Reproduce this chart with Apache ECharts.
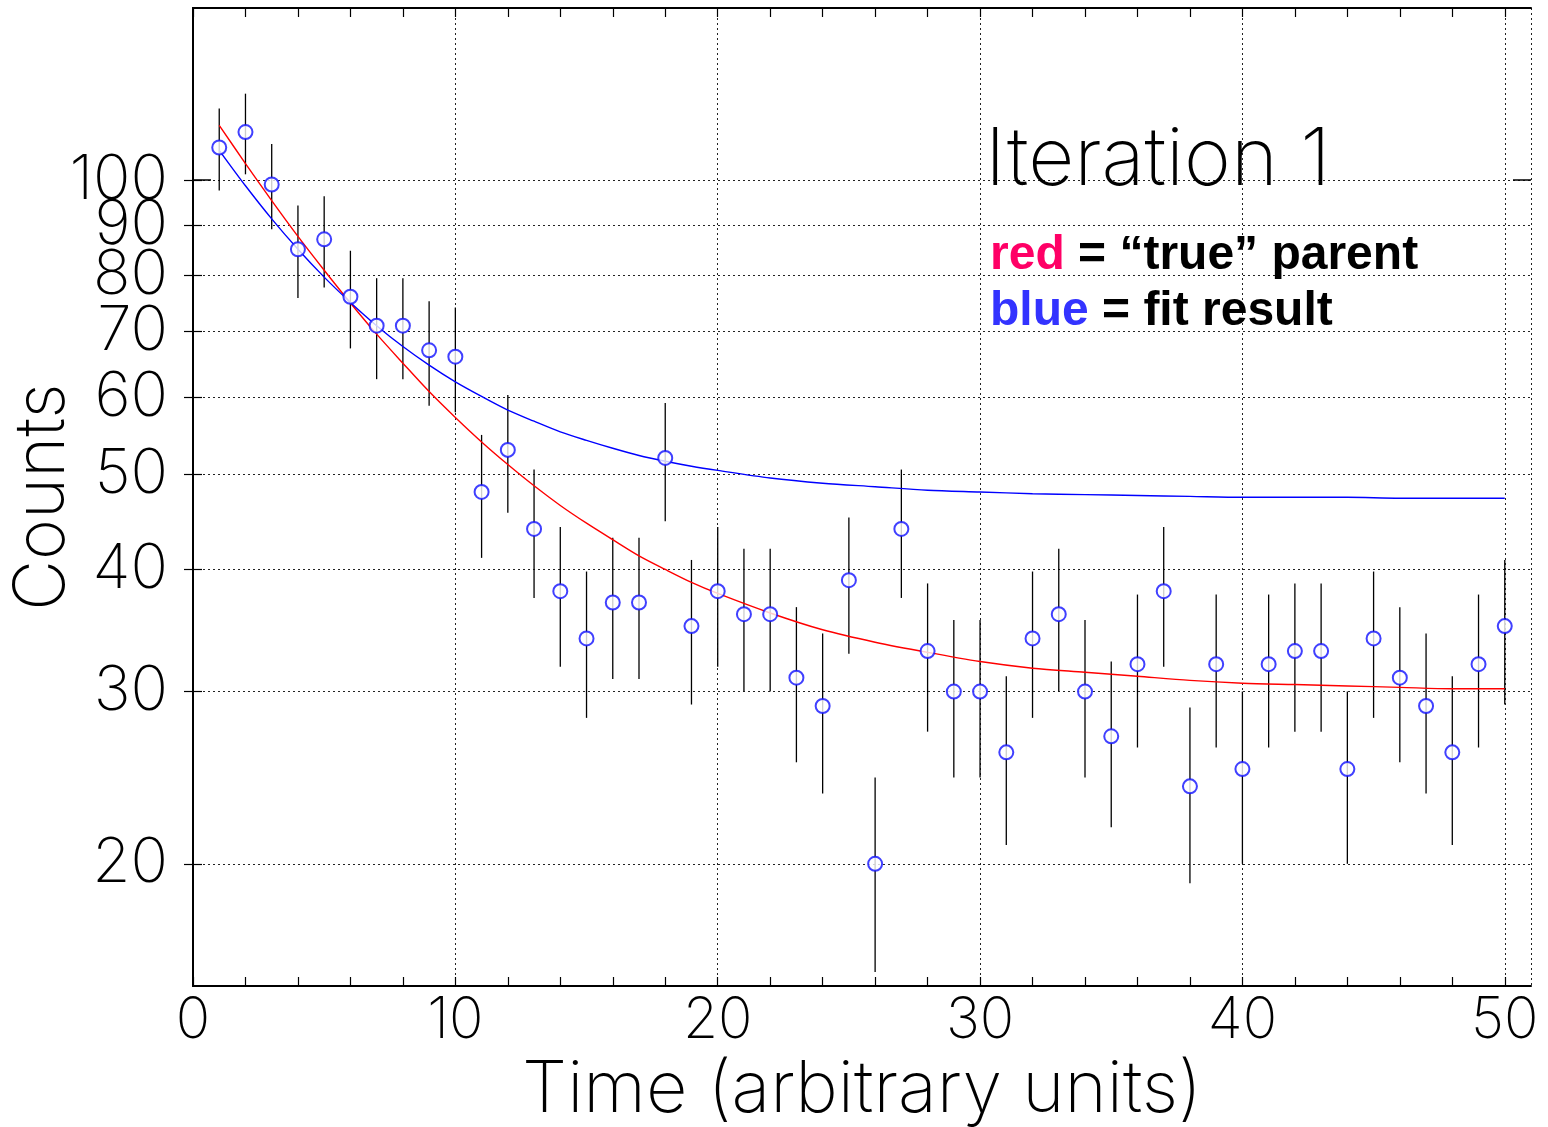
<!DOCTYPE html>
<html>
<head>
<meta charset="utf-8">
<script src="https://cdn.jsdelivr.net/npm/echarts@6/dist/echarts.min.js"></script>
<style>html,body{margin:0;padding:0;background:#fff}#c{width:1548px;height:1127px}</style>
</head>
<body>
<div id="c"></div>
<script>
// ---- data ----
const times = [1,2,3,4,5,6,7,8,9,10,11,12,13,14,15,16,17,18,19,20,21,22,23,24,25,26,27,28,29,30,31,32,33,34,35,36,37,38,39,40,41,42,43,44,45,46,47,48,49,50];
const counts = [108,112,99,85,87,76,71,71,67,66,48,53,44,38,34,37,37,52,35,38,36,36,31,29,39,20,44,33,30,30,26,34,36,30,27,32,38,24,32,25,32,33,33,25,34,31,29,26,32,35];
const countErrors = [10.4,10.6,9.9,9.2,9.3,8.7,8.4,8.4,8.2,8.1,6.9,7.3,6.6,6.2,5.8,6.1,6.1,7.2,5.9,6.2,6.0,6.0,5.6,5.4,6.2,4.5,6.6,5.7,5.5,5.5,5.1,5.8,6.0,5.5,5.2,5.7,6.2,4.9,5.7,5.0,5.7,5.7,5.7,5.0,5.8,5.6,5.4,5.1,5.7,5.9];

const trueX = [1,2,3,4,5,6,7,8,9,10,11,12,13,14,15,16,17,18,19,20,22,24,26,28,30,32,34,36,38,40,42,44,46,48,50];
const trueY = [113.8,104.0,95.3,87.6,80.9,74.9,69.6,65.0,60.8,57.2,54.0,51.2,48.7,46.5,44.6,42.9,41.3,40.0,38.8,37.8,36.1,34.7,33.7,32.9,32.2,31.7,31.4,31.1,30.8,30.6,30.5,30.4,30.3,30.2,30.2];

const fitX = [1,2,3,4,5,6,7,8,9,10,11,12,13,14,15,16,17,18,19,20,22,24,26,28,30,32,34,36,38,40,42,44,46,48,50];
const fitY = [107.3,98.7,91.3,85.0,79.6,75.0,71.0,67.6,64.7,62.2,60.1,58.2,56.7,55.3,54.2,53.2,52.3,51.6,51.0,50.5,49.6,49.0,48.6,48.2,48.0,47.8,47.7,47.6,47.5,47.4,47.4,47.4,47.3,47.3,47.3];

const yTickValues = [20,30,40,50,60,70,80,90,100];
const yLabelsEven = [20,40,60,80];
const yLabelsOdd = [30,50,70,90];
const yDecadeTicks = [100];
const xTickValues = [0,2,4,6,8,10,12,14,16,18,20,22,24,26,28,30,32,34,36,38,40,42,44,46,48,50];
const xTickLabels = [0,10,20,30,40,50];

const thinFont = 'Inter, Lato, "DejaVu Sans", sans-serif';
const boldFont = '"Liberation Sans", Arial, sans-serif';

const points = times.map((t, i) => [t, counts[i]]);
const bars = times.map((t, i) => [t, counts[i] - countErrors[i], counts[i] + countErrors[i]]);
const trueLine = trueX.map((t, i) => [t, trueY[i]]);
const fitLine = fitX.map((t, i) => [t, fitY[i]]);

const gridDash = { type: [2, 3], color: '#222', width: 1 };
const frameLine = { color: '#000', width: 2 };
const yLabelStyle = { fontFamily: thinFont, fontWeight: 200, fontSize: 62, color: '#000', margin: 25, hideOverlap: false };

function yAxisBase(pos) {
  return {
    type: 'log', logBase: 10, min: 15, max: 150, position: pos,
    axisLine: { show: true, lineStyle: frameLine },
    axisTick: { show: true, inside: true, length: 9, customValues: yTickValues, lineStyle: { color: '#000', width: 1.2 } },
    axisLabel: { show: false },
    splitLine: { show: false },
    minorTick: { show: false }, minorSplitLine: { show: false }
  };
}

const chart = echarts.init(document.getElementById('c'), null, { renderer: 'canvas' });
chart.setOption({
  animation: false,
  backgroundColor: '#fff',
  grid: { left: 193, right: 17, top: 8, bottom: 141, containLabel: false, outerBoundsMode: 'none' },
  xAxis: [
    {
      type: 'value', min: 0, max: 51, position: 'bottom',
      axisLine: { show: true, onZero: false, lineStyle: frameLine },
      axisTick: { show: true, inside: true, length: 9, customValues: xTickValues, lineStyle: { color: '#000', width: 1.2 } },
      axisLabel: { show: true, customValues: xTickLabels, fontFamily: thinFont, fontWeight: 200, fontSize: 57, color: '#000', margin: 6 },
      splitLine: { show: false },
      name: 'Time (arbitrary units)', nameLocation: 'middle', nameGap: 64,
      nameTextStyle: { fontFamily: thinFont, fontWeight: 200, fontSize: 72, color: '#000' }
    },
    {
      type: 'value', min: 0, max: 51, position: 'top',
      axisLine: { show: true, onZero: false, lineStyle: frameLine },
      axisTick: { show: true, inside: true, length: 9, customValues: xTickValues, lineStyle: { color: '#000', width: 1.2 } },
      axisLabel: { show: false }, splitLine: { show: false }
    },
    {
      type: 'value', min: 0, max: 51, interval: 10, position: 'bottom',
      axisLine: { show: false }, axisTick: { show: false }, axisLabel: { show: false },
      splitLine: { show: true, lineStyle: gridDash }
    }
  ],
  yAxis: [
    Object.assign(yAxisBase('left'), {
      axisLabel: Object.assign({ show: true, customValues: yLabelsEven }, yLabelStyle),
      splitLine: { show: true, lineStyle: gridDash },
      name: 'Counts', nameLocation: 'middle', nameGap: 115, nameRotate: 90,
      nameTextStyle: { fontFamily: thinFont, fontWeight: 200, fontSize: 70, color: '#000' }
    }),
    yAxisBase('right'),
    Object.assign(yAxisBase('left'), {
      axisLine: { show: false },
      axisTick: { show: true, inside: true, length: 18, customValues: yDecadeTicks, lineStyle: { color: '#000', width: 1.5 } },
      axisLabel: Object.assign({ show: true, customValues: yDecadeTicks }, yLabelStyle)
    }),
    Object.assign(yAxisBase('right'), {
      axisLine: { show: false },
      axisTick: { show: true, inside: true, length: 18, customValues: yDecadeTicks, lineStyle: { color: '#000', width: 1.5 } }
    }),
    Object.assign(yAxisBase('left'), {
      axisLine: { show: false },
      axisTick: { show: false },
      axisLabel: Object.assign({ show: true, customValues: yLabelsOdd }, yLabelStyle)
    })
  ],
  series: [
    {
      type: 'custom', name: 'errors', xAxisIndex: 0, yAxisIndex: 0, data: bars, clip: true, z: 2,
      encode: { x: 0, y: [1, 2] },
      renderItem: function (params, api) {
        const x = api.value(0);
        const lo = api.coord([x, api.value(1)]);
        const hi = api.coord([x, api.value(2)]);
        return { type: 'line', shape: { x1: lo[0], y1: lo[1], x2: hi[0], y2: hi[1] }, style: { stroke: '#000', lineWidth: 1.3 } };
      }
    },
    {
      type: 'line', name: 'true parent', xAxisIndex: 0, yAxisIndex: 0, data: trueLine, smooth: 0.3,
      showSymbol: false, symbol: 'none', lineStyle: { color: '#ff0000', width: 1.4 }, z: 3
    },
    {
      type: 'line', name: 'fit result', xAxisIndex: 0, yAxisIndex: 0, data: fitLine, smooth: 0.3,
      showSymbol: false, symbol: 'none', lineStyle: { color: '#0000ff', width: 1.4 }, z: 3
    },
    {
      type: 'scatter', name: 'counts', xAxisIndex: 0, yAxisIndex: 0, data: points,
      symbol: 'emptyCircle', symbolSize: 14,
      itemStyle: { color: '#1010ff', borderColor: '#1010ff', borderWidth: 1.4 }, z: 4
    }
  ],
  graphic: [
    { type: 'text', left: 985, top: 121, z: 10,
      style: { text: 'Iteration 1', fontFamily: thinFont, fontWeight: 200, fontSize: 80, fill: '#000' } },
    { type: 'text', left: 990, top: 232, z: 10,
      style: { text: '{r|red} = \u201ctrue\u201d parent', fontFamily: boldFont, fontWeight: 'bold', fontSize: 48, fill: '#000',
        rich: { r: { fill: '#ff0066', fontFamily: boldFont, fontWeight: 'bold', fontSize: 48 } } } },
    { type: 'text', left: 990, top: 288, z: 10,
      style: { text: '{b|blue} = fit result', fontFamily: boldFont, fontWeight: 'bold', fontSize: 48, fill: '#000',
        rich: { b: { fill: '#3333ff', fontFamily: boldFont, fontWeight: 'bold', fontSize: 48 } } } }
  ]
});
</script>
</body>
</html>
